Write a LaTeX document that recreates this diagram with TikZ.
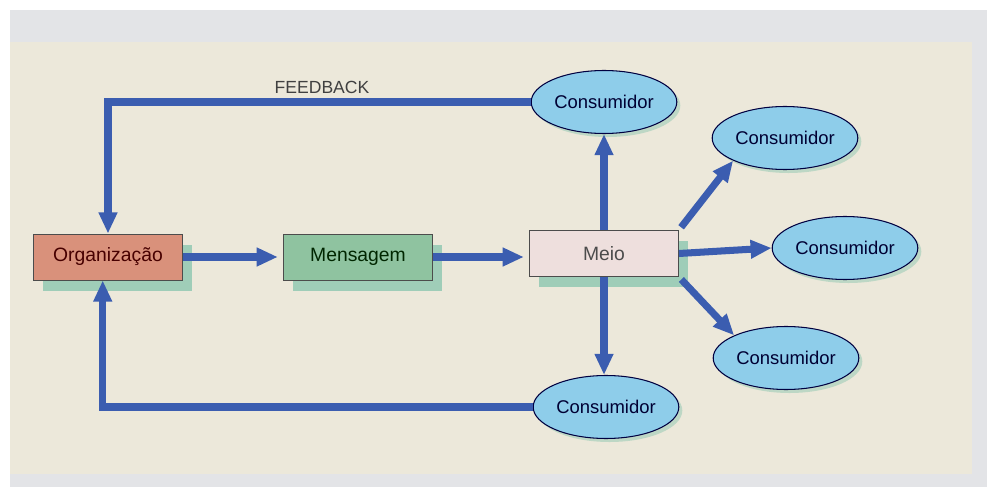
\documentclass[tikz,border=0pt]{standalone}
\usepackage{fontspec}
\setmainfont{Liberation Sans}
\usetikzlibrary{arrows.meta,shapes.geometric,shadows}
\definecolor{pagegray}{HTML}{E3E4E7}
\definecolor{cream}{HTML}{ECE8DA}
\definecolor{flowblue}{HTML}{3B5DB0}
\definecolor{orgfill}{HTML}{D9917B}
\definecolor{msgfill}{HTML}{8FC3A0}
\definecolor{meiofill}{HTML}{EEDFDD}
\definecolor{consfill}{HTML}{8ECDEA}
\definecolor{boxshadow}{HTML}{9FCDB8}
\tikzset{
  box/.style={draw=black!70, line width=0.5pt, minimum width=2.98cm,
    minimum height=0.92cm, font=\fontsize{11}{13}\selectfont,
    drop shadow={shadow xshift=5.5pt, shadow yshift=-6pt, fill=boxshadow, opacity=1}},
  cons/.style={ellipse, draw=black!75!blue, line width=0.6pt, fill=consfill,
    minimum width=2.72cm, minimum height=1.26cm, inner sep=1pt,
    text=black!80!blue, font=\fontsize{10.5}{12}\selectfont,
    drop shadow={shadow xshift=2pt, shadow yshift=-2pt, fill=boxshadow, opacity=0.6}},
  flow/.style={draw=flowblue, line width=4pt,
    -{Triangle[length=12pt, width=10pt]}},
}
\begin{document}
\begin{tikzpicture}[x=0.02cm, y=-0.02cm]
  % page and paper
  \fill[white] (0,0) rectangle (987,493);
  \fill[pagegray] (10,10) rectangle (987,487);
  \fill[cream] (10,42) rectangle (972,474);

  % boxes
  \node[box, fill=orgfill, text=black!60!red!70!black] (org) at (108,257) {Organização};
  \node[box, fill=msgfill, text=black!75!green!60!black] (msg) at (358,257) {Mensagem};
  \node[box, fill=meiofill, text=black!70] (meio) at (604,253.5) {Meio};

  % consumers
  \node[cons] (c1) at (604,102) {Consumidor};
  \node[cons] (c2) at (785,138) {Consumidor};
  \node[cons] (c3) at (845,248) {Consumidor};
  \node[cons] (c4) at (786,358) {Consumidor};
  \node[cons] (c5) at (606,407) {Consumidor};

  % message chain
  \draw[flow, shorten >=3pt] (org) -- (msg);
  \draw[flow, shorten >=3pt] (msg) -- (msg -| meio.west);

  % media to consumers
  \draw[flow] (meio.north) -- (c1.south);
  \draw[flow] (meio.south) -- (meio.south |- c5.north);
  \draw[flow, shorten <=2pt] (meio.north east) -- (c2.south west);
  \draw[flow] (meio.east) -- (c3.west);
  \draw[flow, shorten <=2pt] (meio.south east) -- (c4.north west);

  % feedback loops
  \draw[flow] (c1.west) -| (org.north);
  \draw[flow] (c5.west) -| ([xshift=-3] org.south);
  \node[font=\fontsize{10}{12}\selectfont, text=black!75] (fb) at (322,87) {FEEDBACK};
\end{tikzpicture}
\end{document}
